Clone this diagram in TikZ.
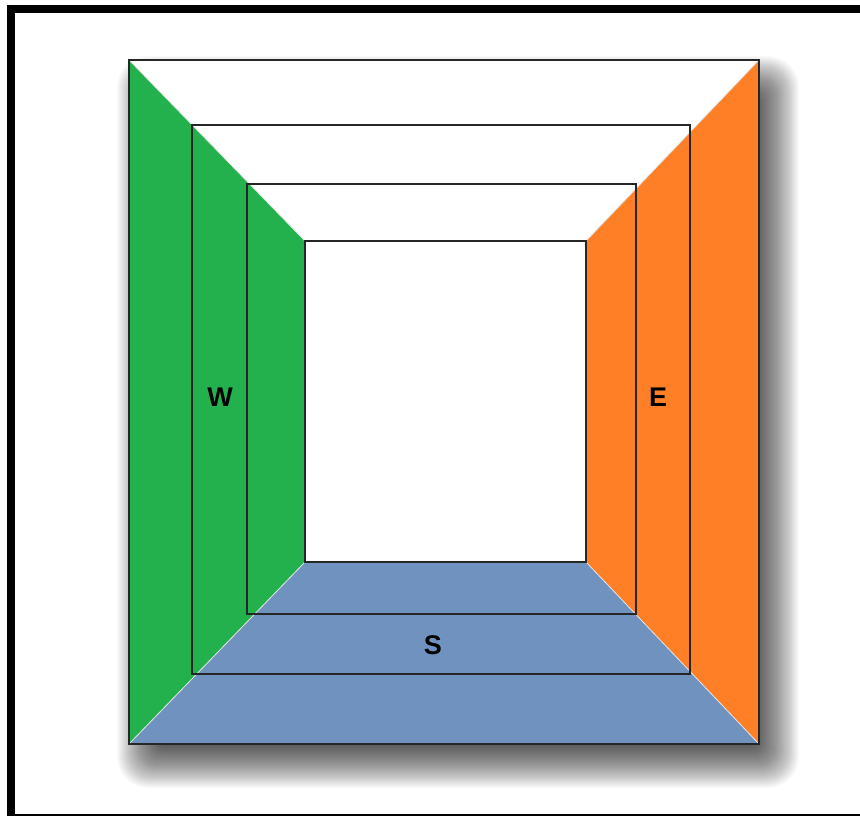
\documentclass[tikz,border=0pt]{standalone}
\usepackage{fontspec}
\setmainfont{Liberation Sans}
\begin{document}
\begin{tikzpicture}[x=1pt,y=-1pt,
  panelline/.style={black!85, line width=1.5pt},
  seam/.style={white!80!gray, line width=0.8pt},
  lbl/.style={font=\fontsize{27}{27}\selectfont\bfseries, text=black, inner sep=0pt}]
\definecolor{pgreen}{RGB}{34,177,76}
\definecolor{porange}{RGB}{255,127,39}
\definecolor{pblue}{RGB}{112,146,190}
\clip (0,0) rectangle (860,816);
\fill[white] (0,0) rectangle (860,816);
% drop shadow (faked blur)
\foreach \r in {-26,...,26} {
  \fill[black, opacity=0.018, rounded corners={max(1,\r+26)*0.6pt}]
    ({143-\r},{82-\r}) rectangle ({773+\r},{762+\r});
}
% corridor corners
\coordinate (o1) at (129,60);  \coordinate (o2) at (759,60);
\coordinate (o3) at (759,744); \coordinate (o4) at (129,744);
\coordinate (i1) at (305,241); \coordinate (i2) at (586,241);
\coordinate (i3) at (586,562); \coordinate (i4) at (305,562);
\fill[white] (o1) rectangle (o3);
\fill[pgreen] (o1) -- (i1) -- (i4) -- (o4) -- cycle;
\fill[porange] (o2) -- (i2) -- (i3) -- (o3) -- cycle;
\fill[pblue] (o4) -- (i4) -- (i3) -- (o3) -- cycle;
\draw[seam] (o1) -- (i1) (o2) -- (i2) (o3) -- (i3) (o4) -- (i4);
% frames of the corridor
\draw[panelline] (o1) rectangle (o3);
\draw[panelline] (192,125) rectangle (690,674);
\draw[panelline] (247,184) rectangle (636,614);
\draw[panelline] (i1) rectangle (i3);
% labels
\node[lbl] (w) at (220,397) {W};
\node[lbl] (e) at (658,397) {E};
\node[lbl] (s) at (433,645) {S};
% outer frame
\draw[black, line width=8pt] (11,9) rectangle (866,817.5);
\end{tikzpicture}
\end{document}
